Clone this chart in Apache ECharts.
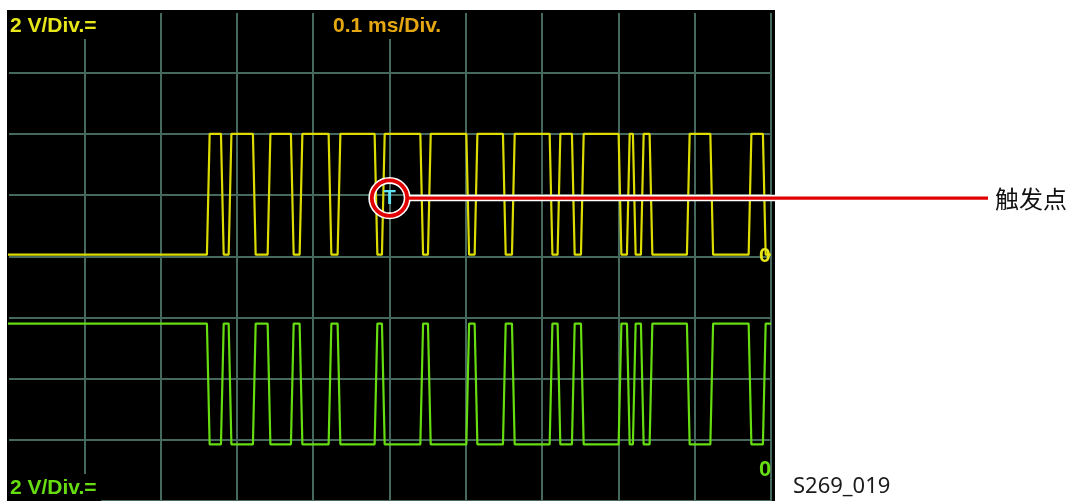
<!DOCTYPE html>
<html><head><meta charset="utf-8">
<script src="https://cdn.jsdelivr.net/npm/echarts@6/dist/echarts.min.js"></script>
<style>html,body{margin:0;padding:0;background:#fff;}#c{width:1075px;height:501px;}</style>
</head><body><div id="c"></div>
<script>
// time axis in microseconds: 0.1 ms per division, 10 divisions
const timeRangeUs = [0, 1000];
const timeDivUs = 100;
// 2 V per division, 8 divisions; each channel has its own zero position
const yellowAxisV = [-8, 8];
const greenAxisV = [-1, 15];
const voltDivV = 2;
// transition times (µs) (both channels switch together)
const edgeTimesUs = [262.5, 280.9, 291.0, 322.8, 342.1, 372.6, 384.0, 422.0, 433.8, 482.3,
  491.9, 542.2, 552.2, 602.5, 613.4, 650.5, 662.3, 711.7, 722.1, 740.9,
  752.7, 802.1, 813.0, 820.8, 831.3, 842.7, 891.6, 922.3, 972.5, 991.2];
// [idle level, active level] in volts
const yellowLevelsV = [0.05, 4.0];
const greenLevelsV = [4.8, 0.85];
// trigger marker (time µs, volts on yellow channel)
const triggerPoint = [500, 1.9];
const topLeftLabel = '2 V/Div.=';
const topCenterLabel = '0.1 ms/Div.';
const bottomLeftLabel = '2 V/Div.=';
const zeroLabel = '0';
const triggerMark = 'T';
const triggerLabel = '触发点';
const figureId = 'S269_019';

const EDGE_HALF = 1.8;
function buildTrace(levels) {
  const pts = [[timeRangeUs[0], levels[0]]];
  let s = 0;
  edgeTimesUs.forEach(t => {
    pts.push([t - EDGE_HALF, levels[s]]);
    s = 1 - s;
    pts.push([t + EDGE_HALF, levels[s]]);
  });
  pts.push([timeRangeUs[1], levels[s]]);
  return pts;
}

const gridColor = '#46695e';
const chart = echarts.init(document.getElementById('c'), null, {renderer: 'canvas'});
const option = {
  animation: false,
  backgroundColor: '#ffffff',
  grid: {left: 8, top: 11.5, width: 763, height: 491, show: true, backgroundColor: '#000', borderWidth: 0, containLabel: false},
  xAxis: {type: 'value', min: timeRangeUs[0], max: timeRangeUs[1], interval: timeDivUs,
    axisLine: {show: false}, axisTick: {show: false}, axisLabel: {show: false},
    splitLine: {show: true, showMinLine: false, lineStyle: {color: gridColor, width: 2}}},
  yAxis: [
    {type: 'value', min: yellowAxisV[0], max: yellowAxisV[1], interval: voltDivV,
      axisLine: {show: false}, axisTick: {show: false}, axisLabel: {show: false},
      splitLine: {show: true, showMaxLine: false, lineStyle: {color: gridColor, width: 2}}},
    {type: 'value', min: greenAxisV[0], max: greenAxisV[1], show: false, splitLine: {show: false}}
  ],
  series: [
    {type: 'line', yAxisIndex: 0, data: buildTrace(yellowLevelsV), showSymbol: false, silent: true,
      lineStyle: {color: '#dcdc00', width: 2.2}, z: 3},
    {type: 'line', yAxisIndex: 1, data: buildTrace(greenLevelsV), showSymbol: false, silent: true,
      lineStyle: {color: '#66dd11', width: 2.2}, z: 3}
  ]
};
chart.setOption(option);

const tp = chart.convertToPixel({xAxisIndex: 0, yAxisIndex: 0}, triggerPoint);
const y0 = chart.convertToPixel({yAxisIndex: 0}, 0);
const g0 = chart.convertToPixel({yAxisIndex: 1}, 0);
const oscFont = 'bold 21px "Liberation Sans", Arial, sans-serif';
const R = 17.7;
chart.setOption({
  graphic: [
    // black frame margins around the plotting grid
    {type: 'rect', shape: {x: 7, y: 10, width: 768, height: 3}, style: {fill: '#000'}, z: 1, silent: true},
    {type: 'rect', shape: {x: 7, y: 10, width: 2, height: 491}, style: {fill: '#000'}, z: 1, silent: true},
    {type: 'rect', shape: {x: 772, y: 10, width: 3, height: 491}, style: {fill: '#000'}, z: 1, silent: true},
    // black boxes behind screen texts
    {type: 'rect', shape: {x: 9, y: 12, width: 92, height: 27}, style: {fill: '#000'}, z: 1, silent: true},
    {type: 'rect', shape: {x: 326, y: 12, width: 122, height: 27}, style: {fill: '#000'}, z: 1, silent: true},
    {type: 'rect', shape: {x: 9, y: 474, width: 92, height: 27}, style: {fill: '#000'}, z: 1, silent: true},
    {type: 'text', style: {text: topLeftLabel, x: 10, y: 26, fill: '#e6e619', font: oscFont, textVerticalAlign: 'middle'}, z: 4, silent: true},
    {type: 'text', style: {text: topCenterLabel, x: 333, y: 26, fill: '#e6a812', font: oscFont, textVerticalAlign: 'middle'}, z: 4, silent: true},
    {type: 'text', style: {text: bottomLeftLabel, x: 10, y: 488, fill: '#66dd11', font: oscFont, textVerticalAlign: 'middle'}, z: 4, silent: true},
    {type: 'text', style: {text: zeroLabel, x: 759, y: y0, fill: '#e6e619', font: 'bold 21px "Liberation Sans", Arial, sans-serif', textVerticalAlign: 'middle'}, z: 4, silent: true},
    {type: 'text', style: {text: zeroLabel, x: 759, y: g0, fill: '#66dd11', font: 'bold 22px "Liberation Sans", Arial, sans-serif', textVerticalAlign: 'middle'}, z: 4, silent: true},
    // trigger marker and callout
    {type: 'line', shape: {x1: tp[0] + R, y1: tp[1], x2: 775, y2: tp[1]}, style: {stroke: '#ffffff', lineWidth: 6.5}, z: 7, silent: true},
    {type: 'line', shape: {x1: tp[0] + R, y1: tp[1], x2: 988, y2: tp[1]}, style: {stroke: '#e00000', lineWidth: 3.2}, z: 8, silent: true},
    {type: 'circle', shape: {cx: tp[0], cy: tp[1], r: R}, style: {fill: 'rgba(0,0,0,0)', stroke: '#ffffff', lineWidth: 7}, z: 7, silent: true},
    {type: 'circle', shape: {cx: tp[0], cy: tp[1], r: R}, style: {fill: 'rgba(0,0,0,0)', stroke: '#e00000', lineWidth: 3.8}, z: 8, silent: true},
    {type: 'text', style: {text: triggerMark, x: tp[0], y: tp[1], fill: '#62e2f2', font: 'bold 20px "Liberation Sans", Arial, sans-serif', textAlign: 'center', textVerticalAlign: 'middle'}, z: 9, silent: true},
    {type: 'text', style: {text: triggerLabel, x: 995, y: tp[1] + 1, fill: '#111', font: '24px "Noto Sans CJK SC", sans-serif', textVerticalAlign: 'middle'}, z: 8, silent: true},
    {type: 'text', style: {text: figureId, x: 793, y: 487, fill: '#1a1a1a', font: '22px "Noto Sans", sans-serif', textVerticalAlign: 'middle'}, z: 8, silent: true}
  ]
});
</script></body></html>
